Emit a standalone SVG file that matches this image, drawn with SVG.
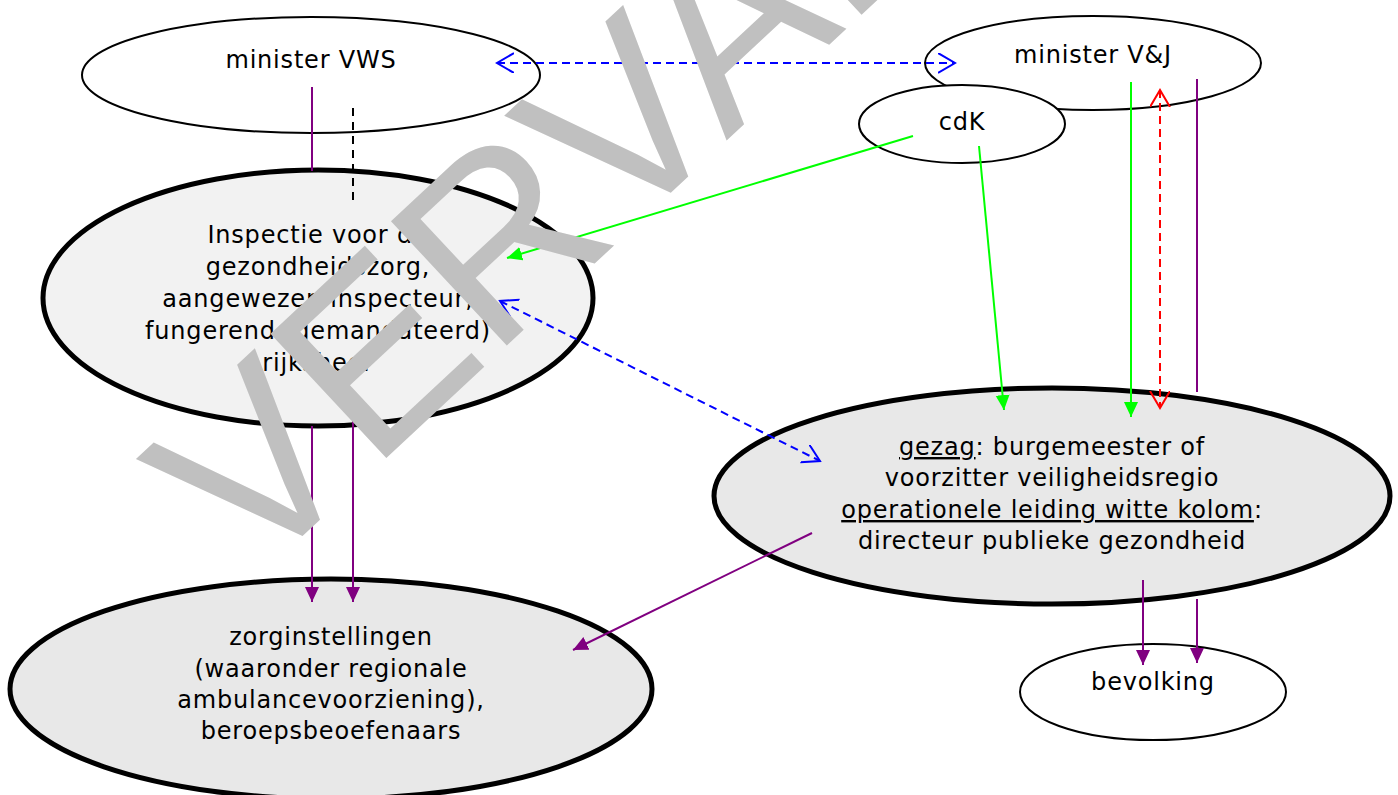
<svg xmlns="http://www.w3.org/2000/svg" width="1398" height="795" viewBox="0 0 1398 795">
<style>
.lbl{font-family:"DejaVu Sans","Liberation Sans",sans-serif;font-size:24px;letter-spacing:0.8px;fill:#000;text-anchor:middle}
.thin{fill:#fff;stroke:#000;stroke-width:2}
.thick{stroke:#000;stroke-width:5}
.c{fill:none;stroke-width:2}
.blue{stroke:#0000ff;stroke-dasharray:8 5}
.red{stroke:#ff0000;stroke-dasharray:8 5}
.green{stroke:#00ff00}
.purple{stroke:#800080}
.blk{stroke:#000;stroke-dasharray:8 6}
.wm{font-family:"Liberation Sans",Arial,sans-serif;font-size:247px;fill:#c0c0c0}
</style>
<defs>
<marker id="ag" markerUnits="userSpaceOnUse" markerWidth="16" markerHeight="16" refX="15" refY="7" orient="auto"><path d="M0,0 L15,7 L0,14 z" fill="#00ff00"/></marker>
<marker id="ap" markerUnits="userSpaceOnUse" markerWidth="16" markerHeight="16" refX="15" refY="7" orient="auto"><path d="M0,0 L15,7 L0,14 z" fill="#800080"/></marker>
<marker id="ob" markerUnits="userSpaceOnUse" markerWidth="20" markerHeight="24" refX="17" refY="10" orient="auto-start-reverse"><path d="M0,0 L17,10 L0,20" fill="none" stroke="#0000ff" stroke-width="2"/></marker>
<marker id="or" markerUnits="userSpaceOnUse" markerWidth="20" markerHeight="24" refX="17" refY="10" orient="auto-start-reverse"><path d="M0,0 L17,10 L0,20" fill="none" stroke="#ff0000" stroke-width="2"/></marker>
</defs>

<g id="node-vws">
<ellipse class="thin" cx="311" cy="75" rx="229" ry="58"/>
<text class="lbl" x="311" y="68">minister VWS</text>
</g>
<g id="node-vj">
<ellipse class="thin" cx="1093" cy="63" rx="168" ry="47"/>
<text class="lbl" x="1093" y="63">minister V&amp;J</text>
</g>
<g id="node-cdk">
<ellipse class="thin" cx="962" cy="124" rx="103" ry="39"/>
<text class="lbl" x="962" y="130">cdK</text>
</g>
<g id="node-inspectie">
<ellipse class="thick" fill="#f2f2f2" cx="318" cy="298" rx="275" ry="128"/>
<text class="lbl" x="318" y="243">Inspectie voor de</text>
<text class="lbl" x="318" y="275">gezondheidszorg,</text>
<text class="lbl" x="318" y="307">aangewezen inspecteur,</text>
<text class="lbl" x="318" y="339">fungerend (gemandateerd)</text>
<text class="lbl" x="318" y="371">rijksheer</text>
</g>
<g id="node-gezag">
<ellipse class="thick" fill="#e8e8e8" cx="1052" cy="496" rx="338" ry="108"/>
<text class="lbl" x="1052" y="455"><tspan text-decoration="underline">gezag</tspan>: burgemeester of</text>
<text class="lbl" x="1052" y="486">voorzitter veiligheidsregio</text>
<text class="lbl" x="1052" y="518"><tspan text-decoration="underline">operationele leiding witte kolom</tspan>:</text>
<text class="lbl" x="1052" y="549">directeur publieke gezondheid</text>
</g>
<g id="node-zorg">
<ellipse class="thick" fill="#e8e8e8" cx="331" cy="689" rx="321" ry="110"/>
<text class="lbl" x="331" y="645">zorginstellingen</text>
<text class="lbl" x="331" y="677">(waaronder regionale</text>
<text class="lbl" x="331" y="708">ambulancevoorziening),</text>
<text class="lbl" x="331" y="739">beroepsbeoefenaars</text>
</g>
<g id="node-bevolking">
<ellipse class="thin" cx="1153" cy="692" rx="133" ry="48"/>
<text class="lbl" x="1153" y="690">bevolking</text>
</g>

<g id="connectors">
<line class="c blue" x1="497" y1="63" x2="955" y2="63" marker-start="url(#ob)" marker-end="url(#ob)"/>
<path class="c purple" d="M312,87 V171 M312,426 V602" marker-end="url(#ap)"/>
<line class="c blk" x1="353" y1="108" x2="353" y2="200"/>
<line class="c purple" x1="353" y1="413" x2="353" y2="602" marker-end="url(#ap)"/>
<line class="c green" x1="913" y1="136" x2="507" y2="258" marker-end="url(#ag)"/>
<line class="c green" x1="979" y1="146" x2="1004" y2="410" marker-end="url(#ag)"/>
<line class="c green" x1="1131" y1="82" x2="1131" y2="417" marker-end="url(#ag)"/>
<line class="c red" x1="1160" y1="90" x2="1160" y2="408" marker-start="url(#or)" marker-end="url(#or)"/>
<path class="c purple" d="M1197,79 V392 M1197,599 V663" marker-end="url(#ap)"/>
<line class="c purple" x1="1143" y1="580" x2="1143" y2="665" marker-end="url(#ap)"/>
<line class="c blue" x1="500" y1="301" x2="820" y2="461" marker-start="url(#ob)" marker-end="url(#ob)"/>
<line class="c purple" x1="812" y1="533" x2="573" y2="650" marker-end="url(#ap)"/>
</g>

<g id="watermark">
<text class="wm" transform="translate(251,584) rotate(-43)">VERVALLEN</text>
</g>
</svg>
